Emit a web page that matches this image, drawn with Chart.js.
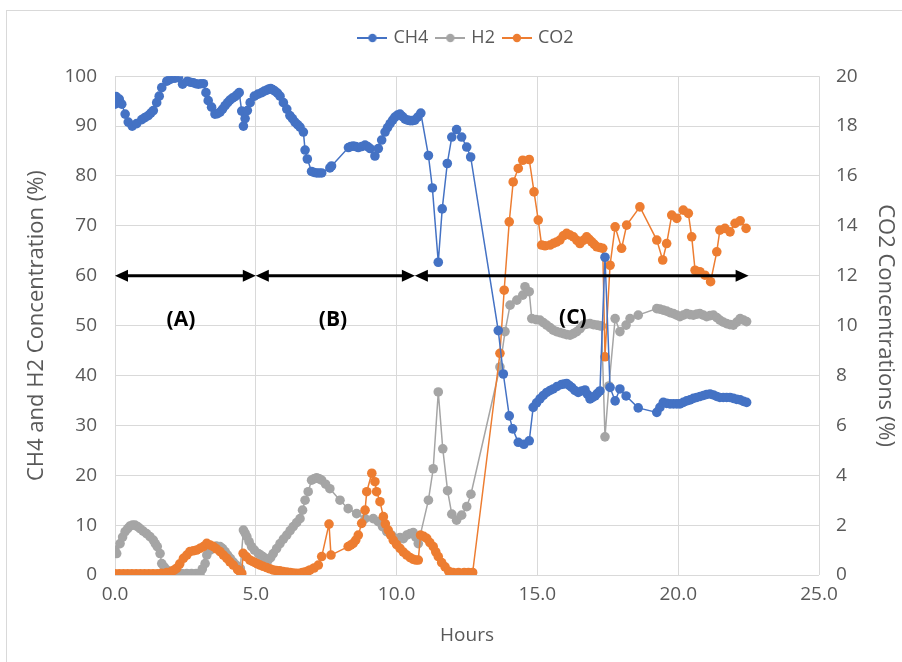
<!DOCTYPE html>
<html>
<head>
<meta charset="utf-8">
<script src="https://cdn.jsdelivr.net/npm/chart.js@4/dist/chart.umd.min.js"></script>
<style>
  html, body { margin: 0; padding: 0; background: #fff; overflow: hidden; }
  #wrap { position: relative; width: 902px; height: 662px; }
  #frame { position: absolute; left: 6px; top: 10px; width: 920px; height: 680px; border: 1px solid #D9D9D9; box-sizing: border-box; pointer-events: none; }
  canvas { position: absolute; left: 0; top: 0; }
</style>
</head>
<body>
<div id="wrap">
  <canvas id="c" width="902" height="662"></canvas>
  <div id="frame"></div>
</div>
<script>
// ---- Data: [hours, value] ----
const seriesNames = ['CH4', 'H2', 'CO2'];

const ch4Points = [[0,94.4],[0.04,95.9],[0.15,95.4],[0.24,94.4],[0.36,92.4],[0.47,90.8],[0.61,90],[0.77,90.5],[0.95,91.3],[1.06,91.7],[1.18,92.1],[1.27,92.6],[1.36,93.1],[1.48,94.7],[1.57,96],[1.66,97.7],[1.84,99],[1.93,99.3],[2.01,99.5],[2.13,99.6],[2.25,99.7],[2.4,98.4],[2.57,99],[2.67,98.8],[2.78,98.7],[2.87,98.5],[2.96,98.4],[3.05,98.5],[3.14,98.5],[3.23,96.7],[3.31,95.1],[3.43,93.8],[3.55,92.4],[3.64,92.5],[3.73,92.8],[3.82,93.4],[3.91,94.1],[4.0,94.7],[4.08,95.2],[4.17,95.6],[4.26,95.9],[4.34,96.3],[4.41,96.7],[4.5,93],[4.56,90],[4.62,91.5],[4.7,93.1],[4.8,94.7],[4.95,96],[5.08,96.4],[5.21,96.7],[5.3,97],[5.39,97.2],[5.46,97.4],[5.53,97.5],[5.6,97.3],[5.68,97],[5.77,96.6],[5.86,96],[5.98,94.7],[6.1,93.4],[6.21,92.1],[6.3,91.5],[6.39,90.8],[6.48,90.3],[6.57,89.8],[6.69,88.8],[6.75,85.2],[6.83,83.4],[6.98,80.9],[7.07,80.7],[7.16,80.6],[7.25,80.6],[7.34,80.6],[7.63,81.6],[7.69,82],[8.29,85.7],[8.37,85.9],[8.46,86],[8.55,85.9],[8.64,85.7],[8.76,85.9],[8.88,86.2],[8.97,85.9],[9.06,85.5],[9.23,84],[9.35,85.5],[9.47,87.2],[9.59,88.8],[9.68,89.7],[9.77,90.5],[9.86,91.2],[9.94,91.8],[10.03,92.2],[10.12,92.4],[10.21,91.9],[10.3,91.4],[10.39,91.2],[10.48,91.1],[10.56,91.1],[10.65,91.2],[10.75,91.8],[10.86,92.6],[11.13,84.1],[11.27,77.6],[11.48,62.7],[11.62,73.4],[11.8,82.5],[11.96,87.8],[12.13,89.3],[12.31,87.8],[12.49,85.8],[12.63,83.8],[13.61,49],[13.79,40.3],[14,31.9],[14.12,29.3],[14.32,26.6],[14.52,26.2],[14.71,26.9],[14.85,33.6],[14.97,34.5],[15.09,35.3],[15.21,36],[15.33,36.6],[15.45,37],[15.56,37.3],[15.7,37.8],[15.86,38.2],[15.95,38.3],[16.04,38.4],[16.13,38],[16.22,37.6],[16.33,37],[16.45,36.6],[16.57,36.9],[16.69,37.1],[16.78,36.2],[16.87,35.3],[16.96,35.6],[17.05,35.9],[17.13,36.4],[17.22,36.9],[17.4,63.7],[17.58,37.6],[17.76,34.9],[17.93,37.3],[18.15,35.9],[18.58,33.5],[19.24,32.6],[19.35,33.6],[19.47,34.6],[19.59,34.4],[19.71,34.3],[19.83,34.3],[19.95,34.3],[20.06,34.3],[20.18,34.6],[20.3,34.9],[20.42,35.1],[20.54,35.4],[20.66,35.6],[20.78,35.8],[20.9,36],[21.01,36.2],[21.13,36.3],[21.25,36.1],[21.37,35.8],[21.48,35.6],[21.6,35.6],[21.72,35.6],[21.84,35.6],[21.96,35.4],[22.08,35.2],[22.2,35.1],[22.32,34.8],[22.43,34.6]];

const h2Points = [[0,5],[0.06,4.3],[0.18,6.3],[0.27,7.6],[0.36,8.7],[0.45,9.3],[0.53,9.8],[0.62,10],[0.71,10],[0.8,9.7],[0.89,9.3],[1.0,8.8],[1.12,8.3],[1.24,7.7],[1.36,7],[1.43,6.3],[1.5,5.7],[1.6,4.3],[1.66,2.3],[1.75,1.6],[1.84,1],[1.93,0.7],[2.02,0.5],[2.19,0.3],[2.37,0.3],[2.55,0.3],[2.72,0.3],[2.88,0.3],[3.02,0.3],[3.1,1.2],[3.2,2.3],[3.26,4],[3.38,5],[3.49,5.7],[3.6,5.8],[3.73,5.7],[3.82,5.3],[3.91,4.7],[4.0,4],[4.1,3.3],[4.2,2.6],[4.3,2],[4.38,1.6],[4.45,1.3],[4.56,9],[4.62,8.4],[4.68,7.7],[4.76,6.7],[4.85,5.7],[4.95,5],[5.09,4.3],[5.17,4],[5.25,3.7],[5.33,3.3],[5.44,3],[5.53,3.5],[5.62,4.3],[5.74,5.3],[5.86,6.3],[5.98,7.2],[6.1,8],[6.22,8.9],[6.33,9.7],[6.45,10.5],[6.57,11.3],[6.66,13],[6.75,15],[6.86,16.7],[6.98,19],[7.07,19.3],[7.16,19.5],[7.25,19.3],[7.34,19],[7.48,18.2],[7.63,17.3],[7.99,15],[8.28,13.3],[8.58,12.3],[8.88,11.3],[9.17,11.3],[9.35,10.7],[9.5,9.7],[9.65,8.7],[9.82,8],[10,7.3],[10.12,7.5],[10.24,7.3],[10.36,8],[10.48,8.3],[10.59,8.5],[10.68,7.6],[10.77,6.3],[11.13,15],[11.3,21.3],[11.48,36.7],[11.64,25.3],[11.81,16.9],[11.96,12.2],[12.13,11],[12.31,12],[12.49,13.7],[12.64,16.2],[13.67,41.7],[13.85,48.8],[14.03,54.1],[14.27,55.1],[14.48,56.1],[14.56,57.8],[14.71,56.8],[14.8,51.4],[14.95,51.2],[15.09,51.1],[15.21,50.6],[15.33,50.1],[15.45,49.6],[15.56,49.1],[15.68,48.8],[15.8,48.6],[15.92,48.4],[16.04,48.2],[16.16,48.1],[16.28,48.4],[16.4,48.8],[16.52,49.4],[16.63,50.1],[16.75,50.3],[16.87,50.4],[16.99,50.2],[17.11,50.1],[17.2,50],[17.28,49.9],[17.4,27.7],[17.54,37.9],[17.76,51.4],[17.93,48.8],[18.15,50.1],[18.29,51.4],[18.58,52.1],[19.24,53.4],[19.35,53.3],[19.47,53.1],[19.59,52.9],[19.71,52.6],[19.83,52.4],[19.95,52.1],[20.06,51.8],[20.18,52.1],[20.3,52.4],[20.42,52.2],[20.54,52.1],[20.66,52.3],[20.77,52.4],[20.89,52.1],[21.01,51.8],[21.13,52],[21.25,52.1],[21.37,51.6],[21.48,51.1],[21.6,50.7],[21.72,50.4],[21.84,50.2],[21.96,50.1],[22.08,50.7],[22.2,51.4],[22.32,51.1],[22.43,50.8]];

const co2Points = [[0,0.05],[0.15,0.05],[0.3,0.05],[0.45,0.05],[0.6,0.05],[0.75,0.05],[0.9,0.05],[1.05,0.05],[1.2,0.05],[1.35,0.05],[1.5,0.05],[1.65,0.07],[1.84,0.1],[2.02,0.15],[2.1,0.2],[2.19,0.27],[2.3,0.45],[2.43,0.67],[2.55,0.8],[2.66,0.94],[2.78,0.97],[2.9,1.0],[3.02,1.07],[3.14,1.14],[3.26,1.27],[3.38,1.2],[3.49,1.14],[3.6,1.05],[3.73,0.94],[3.85,0.8],[3.97,0.67],[4.08,0.53],[4.2,0.4],[4.35,0.22],[4.43,0.15],[4.5,0.07],[4.55,0.87],[4.67,0.73],[4.79,0.6],[4.88,0.55],[4.97,0.5],[5.06,0.45],[5.15,0.4],[5.26,0.35],[5.38,0.3],[5.5,0.25],[5.62,0.2],[5.73,0.18],[5.85,0.17],[5.97,0.14],[6.1,0.12],[6.22,0.1],[6.33,0.08],[6.45,0.07],[6.57,0.07],[6.66,0.1],[6.75,0.12],[6.84,0.15],[6.92,0.2],[7.07,0.28],[7.22,0.4],[7.34,0.74],[7.6,2.04],[7.67,0.8],[8.28,1.14],[8.37,1.2],[8.46,1.27],[8.55,1.4],[8.64,1.6],[8.76,2.07],[8.88,2.6],[8.94,3.34],[9.12,4.08],[9.23,3.74],[9.29,3.34],[9.41,2.94],[9.53,2.34],[9.6,2.05],[9.7,1.8],[9.79,1.6],[9.88,1.4],[10.0,1.22],[10.12,1.07],[10.24,0.92],[10.36,0.8],[10.48,0.7],[10.59,0.63],[10.68,0.6],[10.77,0.6],[10.85,1.6],[10.96,1.55],[11.07,1.47],[11.18,1.3],[11.3,1.14],[11.39,0.93],[11.48,0.74],[11.6,0.5],[11.72,0.33],[11.85,0.15],[12.01,0.1],[12.2,0.1],[12.4,0.1],[12.55,0.1],[12.7,0.1],[13.67,8.89],[13.82,11.42],[14,14.16],[14.14,15.76],[14.32,16.3],[14.48,16.63],[14.71,16.66],[14.88,15.36],[15.03,14.23],[15.15,13.23],[15.27,13.2],[15.45,13.23],[15.57,13.3],[15.68,13.35],[15.8,13.43],[15.92,13.6],[16.04,13.7],[16.16,13.63],[16.28,13.56],[16.4,13.42],[16.51,13.29],[16.63,13.42],[16.75,13.56],[16.84,13.46],[16.93,13.36],[17.02,13.26],[17.11,13.16],[17.22,13.13],[17.32,13.1],[17.4,8.75],[17.58,12.42],[17.76,13.96],[17.99,13.1],[18.17,14.03],[18.64,14.76],[19.24,13.43],[19.45,12.63],[19.59,13.29],[19.77,14.43],[19.95,14.3],[20.18,14.63],[20.36,14.5],[20.48,13.56],[20.6,12.22],[20.77,12.16],[20.95,12.02],[21.15,11.76],[21.37,12.96],[21.48,13.83],[21.66,13.9],[21.84,13.76],[22.02,14.1],[22.2,14.2],[22.41,13.9]];

// Axis ticks
const xTicks = [0, 5, 10, 15, 20, 25];
const leftTicks = [0, 10, 20, 30, 40, 50, 60, 70, 80, 90, 100];
const rightTicks = [0, 2, 4, 6, 8, 10, 12, 14, 16, 18, 20];

// Phase annotations (hours, level on left axis)
const phaseLabels = ['(A)', '(B)', '(C)'];
const phaseStarts = [0, 5.0, 10.65];
const phaseEnds = [5.0, 10.65, 22.5];
const phaseLabelHours = [2.34, 7.74, 16.26];
const phaseLabelLevel = [51.1, 51.1, 51.5];
const arrowLevel = 60;

// ---- Styling ----
const colors = { CH4: '#4472C4', H2: '#A5A5A5', CO2: '#ED7D31' };
const textColor = '#595959';
const gridColor = '#D9D9D9';
const FONT = "'Open Sans', 'Liberation Sans', sans-serif";

function pts(pairs) { return pairs.map(p => ({ x: p[0], y: p[1] })); }

function makeIcon(color) {
  const c = document.createElement('canvas');
  c.width = 30; c.height = 10;
  const g = c.getContext('2d');
  g.strokeStyle = color; g.lineWidth = 2;
  g.beginPath(); g.moveTo(0, 5); g.lineTo(30, 5); g.stroke();
  g.fillStyle = color;
  g.beginPath(); g.arc(15, 5, 4.2, 0, Math.PI * 2); g.fill();
  return c;
}
const legendIcons = seriesNames.map(n => makeIcon(colors[n]));

function ds(label, pairs, axis, order) {
  return {
    label, data: pts(pairs), yAxisID: axis, order,
    showLine: true,
    borderColor: colors[label], backgroundColor: colors[label],
    borderWidth: 1.5, pointRadius: 4.8, pointBorderWidth: 0,
    pointBackgroundColor: colors[label], pointHoverRadius: 4.8,
    tension: 0
  };
}

const arrowPlugin = {
  id: 'phaseArrows',
  afterDatasetsDraw(chart) {
    const { ctx, scales } = chart;
    const xs = scales.x, ys = scales.y;
    const yy = ys.getPixelForValue(arrowLevel);
    const head = 13, half = 6;
    ctx.save();
    ctx.strokeStyle = '#000'; ctx.fillStyle = '#000'; ctx.lineWidth = 3;
    phaseStarts.forEach((s, i) => {
      const x1 = xs.getPixelForValue(s);
      const x2 = xs.getPixelForValue(phaseEnds[i]);
      ctx.beginPath(); ctx.moveTo(x1 + head - 2, yy); ctx.lineTo(x2 - head + 2, yy); ctx.stroke();
      ctx.beginPath(); ctx.moveTo(x1, yy); ctx.lineTo(x1 + head, yy - half); ctx.lineTo(x1 + head, yy + half); ctx.closePath(); ctx.fill();
      ctx.beginPath(); ctx.moveTo(x2, yy); ctx.lineTo(x2 - head, yy - half); ctx.lineTo(x2 - head, yy + half); ctx.closePath(); ctx.fill();
    });
    ctx.font = "bold 21px " + FONT;
    ctx.textAlign = 'center'; ctx.textBaseline = 'middle';
    phaseLabels.forEach((t, i) => {
      ctx.fillText(t, xs.getPixelForValue(phaseLabelHours[i]), ys.getPixelForValue(phaseLabelLevel[i]));
    });
    ctx.restore();
  }
};

Chart.defaults.font.family = FONT;
Chart.defaults.color = textColor;

new Chart(document.getElementById('c'), {
  type: 'scatter',
  data: {
    datasets: [
      ds('CH4', ch4Points, 'y', 0),
      ds('H2', h2Points, 'y', 2),
      ds('CO2', co2Points, 'y2', 1)
    ]
  },
  options: {
    responsive: false,
    animation: false,
    devicePixelRatio: 1,
    layout: { padding: { top: 19, left: 0, right: 0, bottom: 0 } },
    plugins: {
      tooltip: { enabled: false },
      title: { display: true, text: ' ', weight: 500, fullSize: false, font: { size: 1 }, padding: { top: 18, bottom: 0 } },
      legend: {
        position: 'top', fullSize: false,
        labels: {
          usePointStyle: true, pointStyleWidth: 24, padding: 10,
          color: textColor, font: { size: 18 },
          sort: (a, b) => a.datasetIndex - b.datasetIndex,
          generateLabels(chart) {
            const items = Chart.defaults.plugins.legend.labels.generateLabels(chart);
            items.forEach(it => { it.pointStyle = legendIcons[it.datasetIndex]; });
            return items;
          }
        }
      }
    },
    scales: {
      x: {
        type: 'linear', position: 'bottom', min: 0, max: 25,
        afterFit: s => { s.height = 87; },
        afterBuildTicks: s => { s.ticks = xTicks.map(v => ({ value: v })); },
        grid: { color: gridColor, drawTicks: false },
        border: { display: false },
        ticks: { padding: 8, font: { size: 19 }, color: textColor, callback: v => Number(v).toFixed(1), maxRotation: 0 },
        title: { display: true, text: 'Hours', color: textColor, font: { size: 19 }, padding: { top: 0, bottom: 15 } }
      },
      y: {
        type: 'linear', position: 'left', min: 0, max: 100,
        afterFit: s => { s.width = 115; },
        afterBuildTicks: s => { s.ticks = leftTicks.map(v => ({ value: v })); },
        grid: { color: gridColor, drawTicks: false },
        border: { display: false },
        ticks: { padding: 18, font: { size: 19 }, color: textColor },
        title: { display: true, text: 'CH4 and H2 Concentration (%)', color: textColor, font: { size: 22 }, padding: { top: 24, bottom: 0 } }
      },
      y2: {
        type: 'linear', position: 'right', min: 0, max: 20,
        afterFit: s => { s.width = 83; },
        afterBuildTicks: s => { s.ticks = rightTicks.map(v => ({ value: v })); },
        grid: { display: false, drawTicks: false },
        border: { display: false },
        ticks: { padding: 17, font: { size: 19 }, color: textColor },
        title: { display: true, text: 'CO2 Concentrations (%)', color: textColor, font: { size: 22 }, padding: { top: 4, bottom: 0 } }
      }
    }
  },
  plugins: [arrowPlugin]
});
</script>
</body>
</html>
